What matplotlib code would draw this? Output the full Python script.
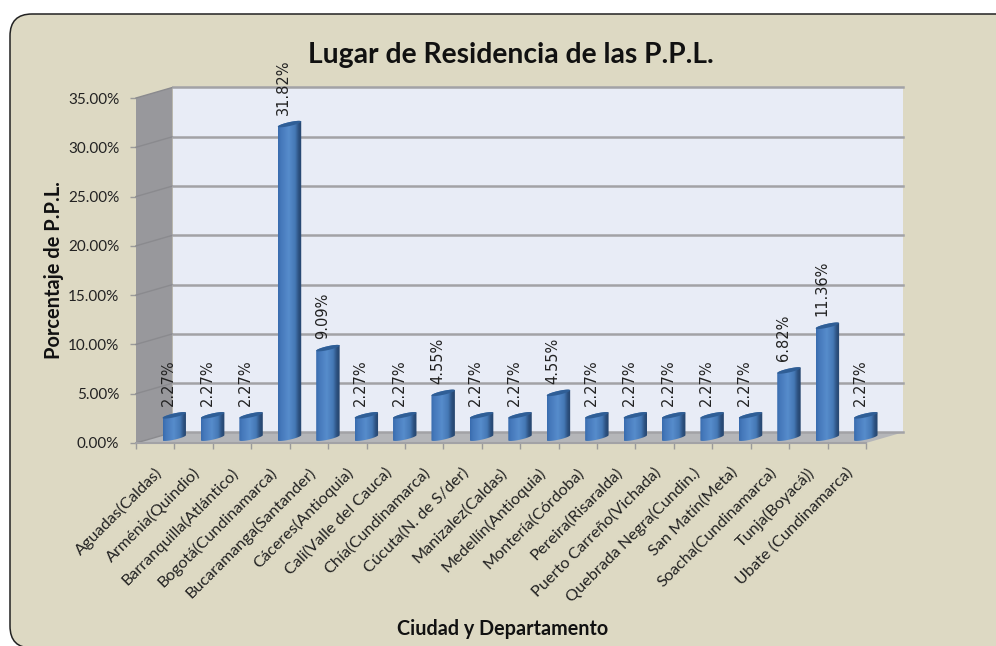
import numpy as np
import matplotlib
matplotlib.use('Agg')
import matplotlib.pyplot as plt
from matplotlib.patches import FancyBboxPatch, Polygon, PathPatch
from matplotlib.path import Path

places = ['Aguadas(Caldas)', 'Arménia(Quindio)', 'Barranquilla(Atlántico)', 'Bogotá(Cundinamarca)',
          'Bucaramanga(Santander)', 'Cáceres(Antioquia)', 'Cali(Valle del Cauca)', 'Chía(Cundinamarca)',
          'Cúcuta(N. de S/der)', 'Manizalez(Caldas)', 'Medellín(Antioquia)', 'Montería(Córdoba)',
          'Pereira(Risaralda)', 'Puerto Carreño(Vichada)', 'Quebrada Negra(Cundin.)', 'San Matín(Meta)',
          'Soacha(Cundinamarca)', 'Tunja(Boyacá))', 'Ubate (Cundinamarca)']
percent = [2.27, 2.27, 2.27, 31.82, 9.09, 2.27, 2.27, 4.55, 2.27, 2.27, 4.55, 2.27,
           2.27, 2.27, 2.27, 2.27, 6.82, 11.36, 2.27]
y_ticks = [0, 5, 10, 15, 20, 25, 30, 35]

W, H = 996, 646
# oblique offset of the back wall, in data units
depth_x = 0.95
depth_y = 1.07
bar_w = 0.61

fig = plt.figure(figsize=(W / 100, H / 100), dpi=100, facecolor='white')
plt.rcParams['font.family'] = ['Lato', 'DejaVu Sans']

# panel behind the chart, runs off the right and bottom edge
panel = FancyBboxPatch((10 / W, -2 / H), 1100 / W, 634 / H, boxstyle='round,pad=0,rounding_size=0.022',
                       transform=fig.transFigure, mutation_aspect=W / H, facecolor='#DDD9C3',
                       edgecolor='#222222', linewidth=1.1, zorder=-5)
fig.patches.append(panel)

ax = fig.add_axes([136 / W, 1 - 443 / H, 730 / W, 345 / H])
ax.set_xlim(0, len(places))
ax.set_ylim(0, 35)
ax.patch.set_alpha(0)
for s in ax.spines.values():
    s.set_visible(False)

top = y_ticks[-1]
n = len(places)
ax.add_patch(Polygon([(depth_x, depth_y), (n + depth_x, depth_y), (n + depth_x, top + depth_y), (depth_x, top + depth_y)],
                     facecolor='#E8ECF6', edgecolor='none', clip_on=False, zorder=1))
ax.add_patch(Polygon([(0, 0), (depth_x, depth_y), (depth_x, top + depth_y), (0, top)],
                     facecolor='#98989C', edgecolor='none', clip_on=False, zorder=1))
ax.add_patch(Polygon([(0, 0), (n, 0), (n + depth_x, depth_y), (depth_x, depth_y)],
                     facecolor='#B5B6B9', edgecolor='none', clip_on=False, zorder=1))
for v in y_ticks:
    ax.plot([0, depth_x], [v, v + depth_y], color='#8A8A8E', lw=1.0, clip_on=False, zorder=2)
    ax.plot([depth_x, n + depth_x], [v + depth_y, v + depth_y], color='#A2A2A6', lw=1.8, clip_on=False, zorder=2)
ax.plot([0, n], [0, 0], color='#A2A2A6', lw=1.5, clip_on=False, zorder=2)

# horizontal shading of a cylinder
stops = [0, 0.12, 0.45, 0.72, 0.88, 1]
cols = [(0.22, 0.42, 0.68), (0.27, 0.47, 0.73), (0.34, 0.55, 0.80), (0.27, 0.47, 0.71), (0.17, 0.31, 0.49), (0.15, 0.27, 0.43)]
xs = np.linspace(0, 1, 64)
shade = np.array([[np.interp(xs, stops, [c[k] for c in cols]) for k in range(3)]]).transpose(0, 2, 1)

t = np.linspace(0, 2 * np.pi, 49)
skew = 0.26
ry = 0.2
for i, v in enumerate(percent):
    cx = i + 0.52 + depth_x / 2
    cy = depth_y / 2
    r = bar_w / 2
    # lower half of base ellipse then upper half of top ellipse
    a = np.linspace(np.pi, 2 * np.pi, 25)
    low = np.c_[cx + r * np.cos(a), cy + ry * np.sin(a) + skew * np.cos(a)]
    a2 = np.linspace(0, np.pi, 25)
    up = np.c_[cx + r * np.cos(a2), cy + v + ry * np.sin(a2) + skew * np.cos(a2)]
    body = Path(np.r_[low, up, low[:1]], closed=True)
    im = ax.imshow(shade, extent=[cx - r, cx + r, -1, v + 2], aspect='auto', zorder=3, interpolation='bilinear')
    clip = PathPatch(body, transform=ax.transData, facecolor='none', edgecolor='none')
    ax.add_patch(clip)
    clip.set_clip_on(False)
    im.set_clip_path(clip)
    # last bar sticks out past the axes box
    im.set_clip_box(fig.bbox)
    ax.fill(cx + r * np.cos(t), cy + v + ry * np.sin(t) + skew * np.cos(t), color='#2F5E96', zorder=4, clip_on=False, lw=0)
    ax.text(cx - 0.15, cy + v + 0.95, '%.2f%%' % v, rotation=90, ha='center', va='bottom', fontsize=10.5,
            family='DejaVu Sans', color='#222222', zorder=5, clip_on=False)

ax.set_xlim(0, n)
ax.set_ylim(0, 35)
ax.set_yticks(y_ticks)
ax.set_yticklabels(['%.2f%%' % v for v in y_ticks], fontsize=11, color='#222222')
ax.set_xticks(np.arange(n + 1))
ax.set_xticklabels([])
ax.tick_params(axis='both', color='#9A9A9A', length=4, width=1)
ax.tick_params(axis='y', pad=8)
for i, name in enumerate(places):
    ax.annotate(name, xy=(i + 0.5, 0), xycoords=('data', 'data'), xytext=(-1, -22), textcoords='offset pixels',
                rotation=45, rotation_mode='anchor', ha='right', va='top', fontsize=11.7, color='#222222', annotation_clip=False)

fig.text(511 / W, 1 - 55 / H, 'Lugar de Residencia de las P.P.L.', ha='center', va='center', fontsize=20.3, fontweight='bold', color='#111111')
fig.text(54 / W, 1 - 270 / H, 'Porcentaje de P.P.L.', rotation=90, ha='center', va='center', fontsize=14.4, fontweight='bold', color='#111111')
fig.text(503 / W, 1 - 629 / H, 'Ciudad y Departamento', ha='center', va='center', fontsize=14.2, fontweight='bold', color='#111111')

fig.savefig('out.png', dpi=100)
